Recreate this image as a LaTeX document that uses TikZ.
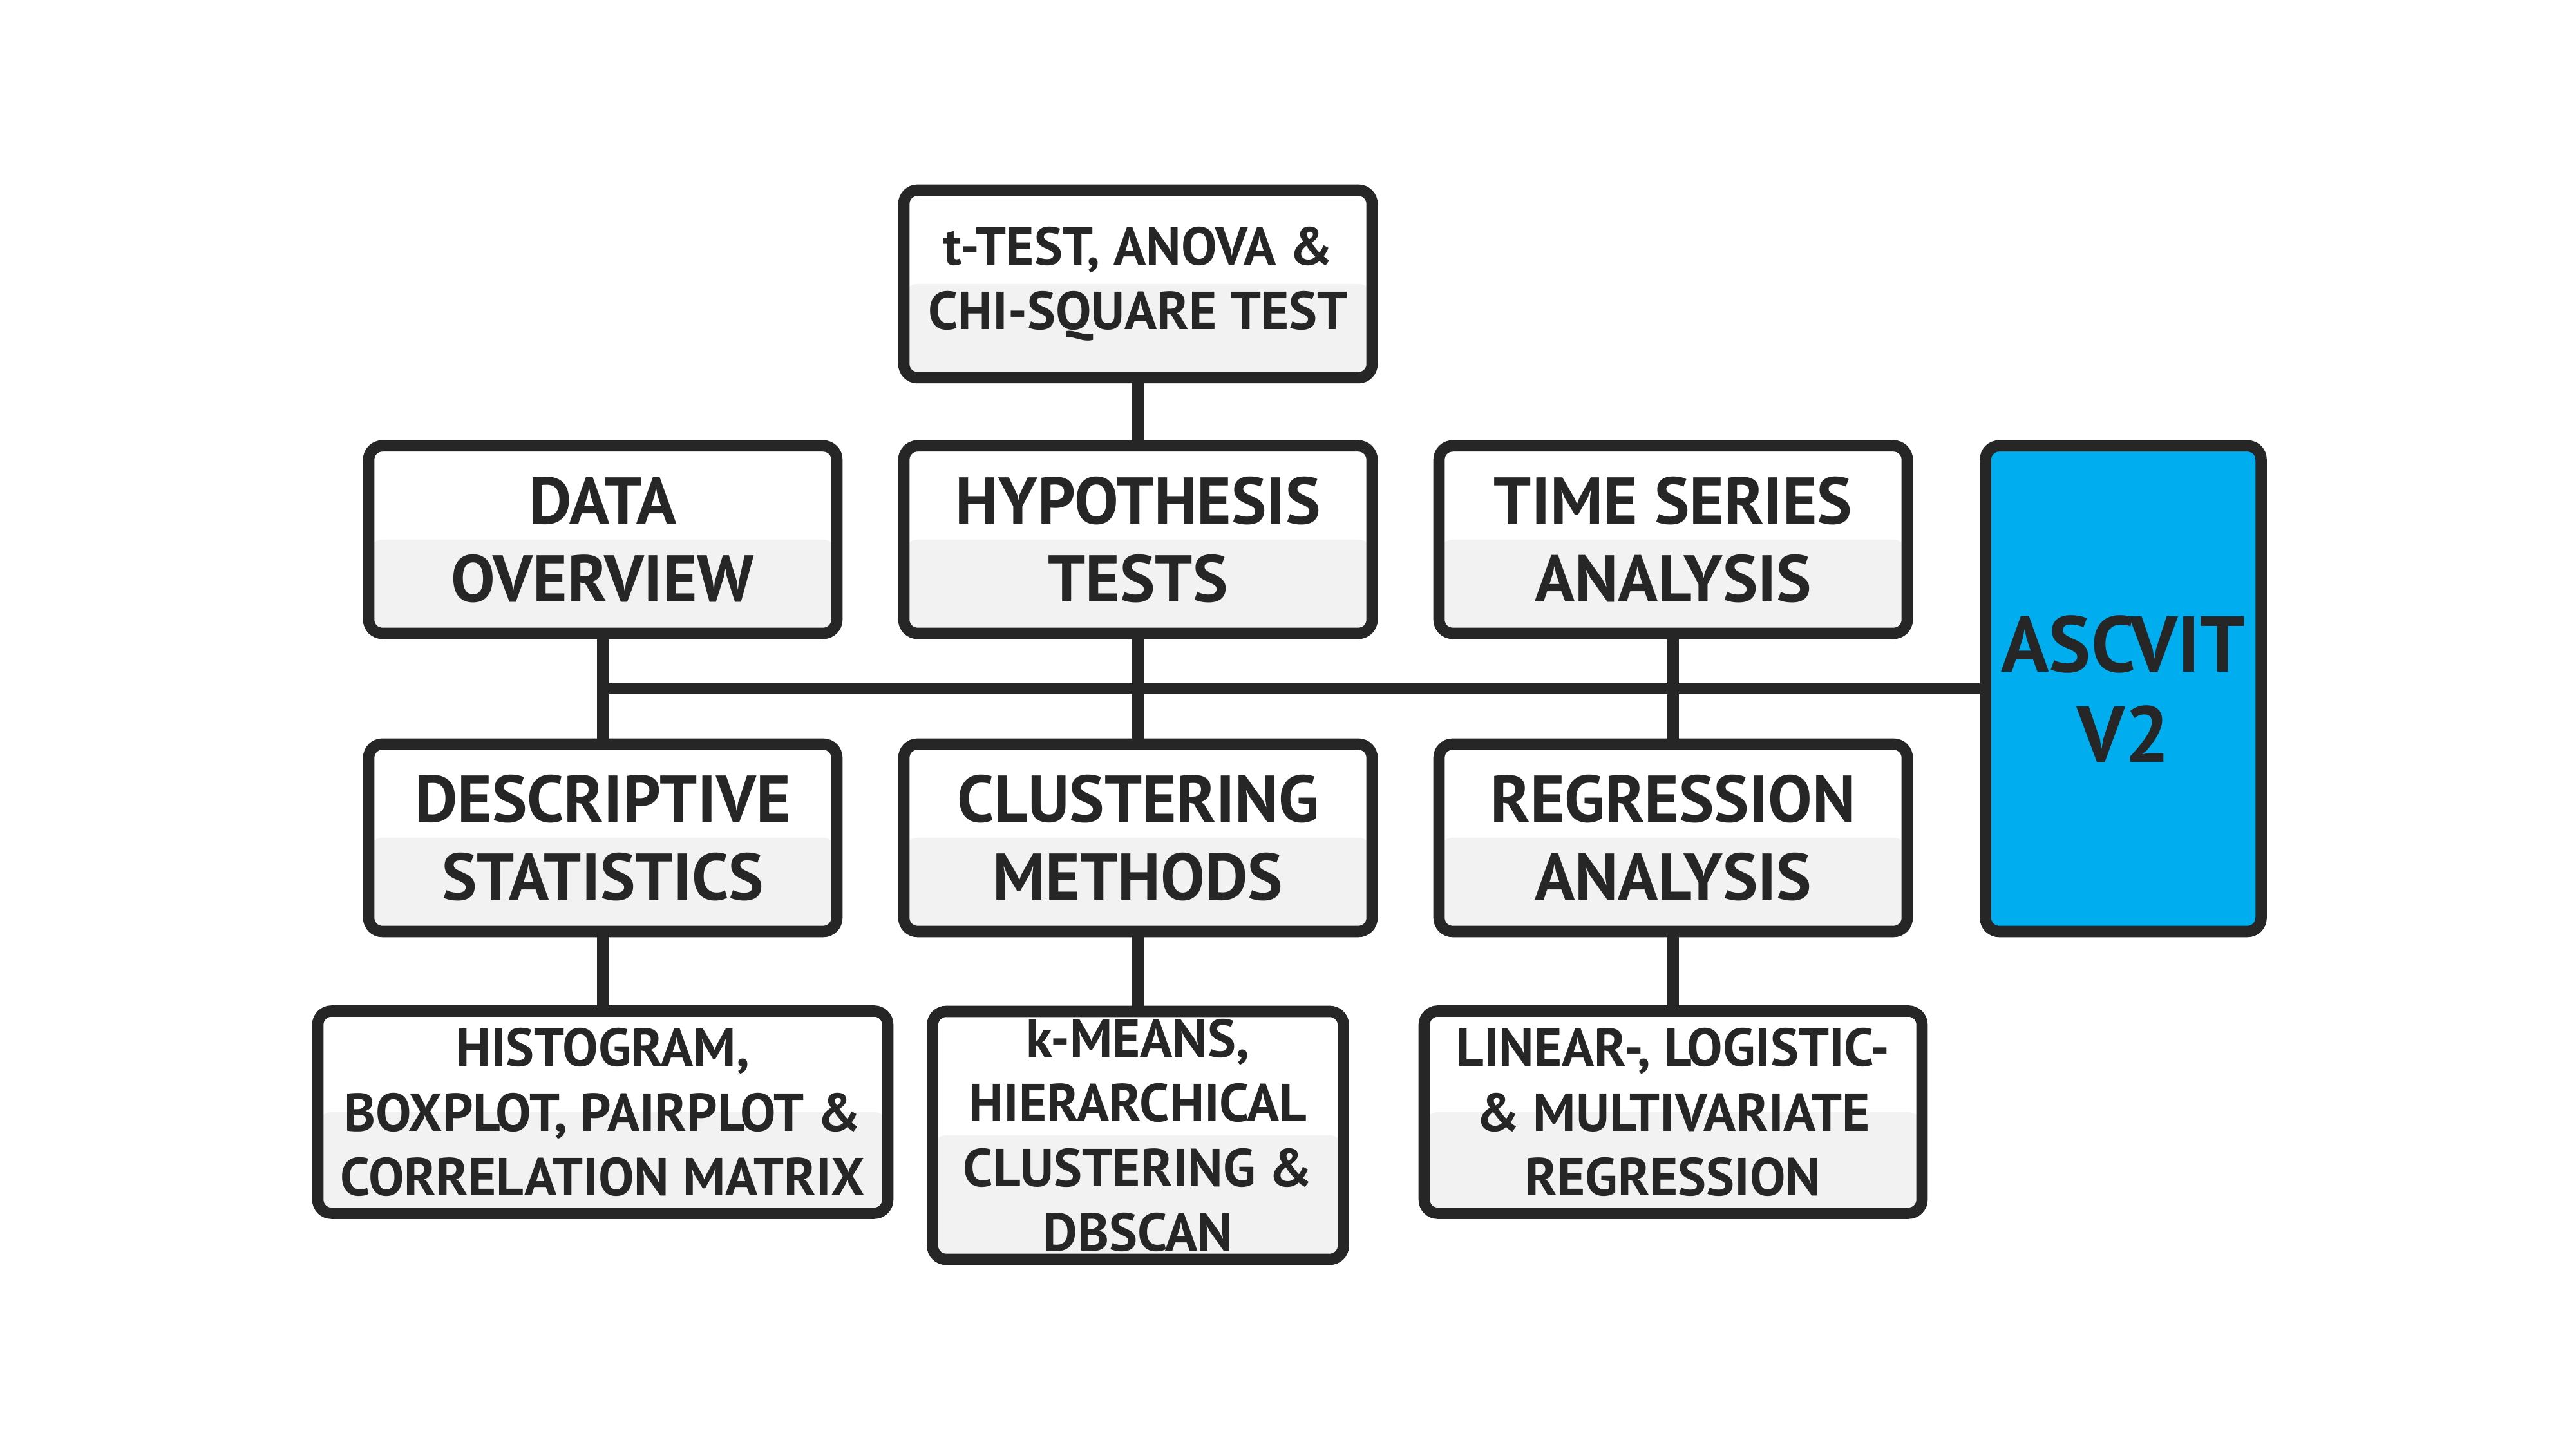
\documentclass[tikz,border=0pt]{standalone}
\usepackage{fontspec}
\setmainfont{PT Sans}
\usetikzlibrary{positioning}
\definecolor{ink}{HTML}{262626}
\definecolor{lowgray}{HTML}{F2F2F2}
\definecolor{ascblue}{HTML}{00AEEF}

\begin{document}
\begin{tikzpicture}[auto,
    box/.style={draw=ink, line width=5pt, rounded corners=6pt, fill=white, text=ink,
        align=center, inner sep=0pt, minimum width=7.27cm, minimum height=2.91cm,
        font=\bfseries\fontsize{29.2}{34.4}\selectfont,
        path picture={\fill[lowgray] (path picture bounding box.west) rectangle (path picture bounding box.south east);}},
    leaf/.style={box, font=\bfseries\fontsize{23.6}{28.5}\selectfont},
    link/.style={draw=ink, line width=5pt}]
        \fill[white] (0, 0) rectangle (40, 22.5);

        \node[leaf] at (17.67, 18.09) (tests) {t-TEST, ANOVA \&\\CHI-SQUARE TEST};

        \node[box] at (9.36, 14.12) (data_ov) {DATA\\OVERVIEW};
        \node[box] at (17.67, 14.12) (hyp_tests) {HYPOTHESIS\\TESTS};
        \node[box] at (25.98, 14.12) (time_series) {TIME SERIES\\ANALYSIS};
        \draw[link] (tests) -- (hyp_tests);

        \node[box] at (9.36, 9.49) (desc_stats) {DESCRIPTIVE\\STATISTICS};
        \node[box] at (17.67, 9.49) (clust_meth) {CLUSTERING\\METHODS};
        \node[box] at (25.98, 9.49) (regr_an) {REGRESSION\\ANALYSIS};
        \draw[link] (data_ov) -- (desc_stats);
        \draw[link] (hyp_tests) -- (clust_meth);
        \draw[link] (time_series) -- (regr_an);

        \node[box, fill=ascblue, path picture={}, minimum width=4.28cm, minimum height=7.54cm,
            font=\bfseries\fontsize{35}{39.8}\selectfont] at (32.97, 11.805) (ascvit) {ASCVIT\\V2};
        \draw[link] (ascvit.west) -- (ascvit.west -| data_ov.south);

        \node[leaf, minimum width=8.85cm, minimum height=3.14cm] at (9.36, 5.23) (plots) {HISTOGRAM,\\BOXPLOT, PAIRPLOT \&\\CORRELATION MATRIX};
        \node[leaf, minimum width=6.38cm, minimum height=3.85cm] at (17.67, 4.87) (clust_alg) {k-MEANS,\\HIERARCHICAL\\CLUSTERING \&\\DBSCAN};
        \node[leaf, minimum width=7.73cm, minimum height=3.14cm] at (25.98, 5.23) (regr_models) {LINEAR-, LOGISTIC-\\\& MULTIVARIATE\\REGRESSION};
        \draw[link] (desc_stats) -- (plots);
        \draw[link] (clust_meth) -- (clust_alg);
        \draw[link] (regr_an) -- (regr_models);
\end{tikzpicture}
\end{document}
